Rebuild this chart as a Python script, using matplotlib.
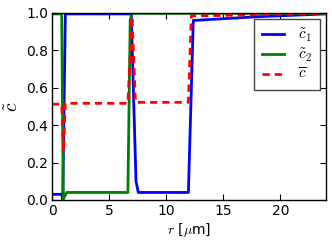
import numpy as np
import matplotlib
matplotlib.use('Agg')
import matplotlib.pyplot as plt

plt.rcParams['mathtext.fontset'] = 'cm'
plt.rcParams['font.family'] = ['DejaVu Sans']

#----------------
# profile values

r1 = [0.0, 0.85, 0.93, 1.16, 6.93, 7.35, 7.55, 11.94, 12.37, 18.0, 24.0]
c1 = [0.03, 0.03, 0.0, 0.995, 0.995, 0.1, 0.04, 0.04, 0.96, 0.98, 0.995]

r2 = [0.0, 0.84, 0.98, 1.28, 6.64, 6.84, 7.0, 24.0]
c2 = [0.995, 0.995, 0.005, 0.04, 0.04, 0.96, 0.998, 0.998]

r3 = [0.0, 0.84, 1.0, 1.15, 6.64, 7.0, 7.3, 11.94, 12.2, 24.0]
c3 = [0.512, 0.512, 0.26, 0.517, 0.517, 0.98, 0.522, 0.522, 0.984, 0.997]

#----------------

fig = plt.figure(figsize=(3.32, 2.45), dpi=100)
ax = fig.add_axes([0.157, 0.184, 0.825, 0.763])

ax.plot(r1, c1, color='b', lw=2, label=r'$\tilde{c}_1$')
ax.plot(r2, c2, color='g', lw=2, label=r'$\tilde{c}_2$')
ax.plot(r3, c3, color='r', lw=2, dashes=(2.6, 1.8), label=r'$\overline{c}$')

ax.set_xlim(0, 24)
ax.set_ylim(0, 1.0)
ax.set_xticks([0, 5, 10, 15, 20])
ax.set_yticks([0.0, 0.2, 0.4, 0.6, 0.8, 1.0])
ax.tick_params(direction='in', top=True, right=True, length=4, labelsize=10, pad=3)
for s in ax.spines.values():
    s.set_linewidth(1)

ax.set_xlabel(r'$r$ [$\mu$m]', fontsize=10, labelpad=2)
ax.set_ylabel(r'$\tilde{c}$', fontsize=14, labelpad=3)

leg = ax.legend(loc='upper right', fontsize=11, handlelength=1.5, fancybox=False,
                framealpha=1, edgecolor='#444444', borderpad=0.5, labelspacing=0.18,
                handletextpad=0.9, borderaxespad=0.4)
leg.get_frame().set_linewidth(1)

fig.savefig('out.png', dpi=100)
